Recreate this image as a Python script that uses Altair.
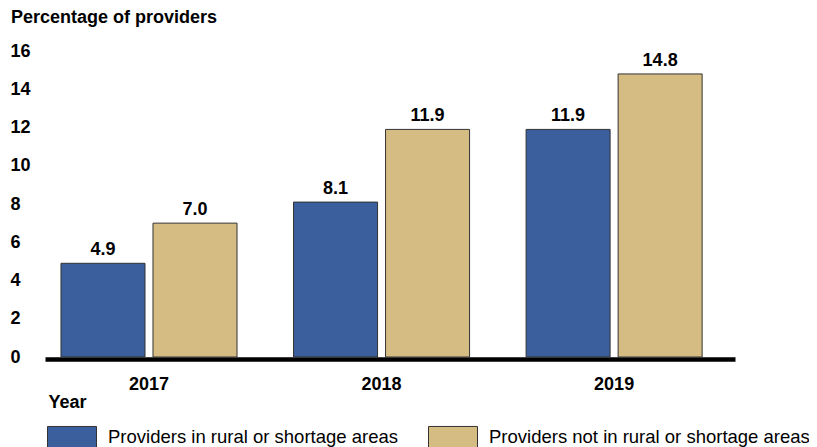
import altair as alt
import pandas as pd

years = ["2017", "2018", "2019"]
series = ["Providers in rural or shortage areas", "Providers not in rural or shortage areas"]
rural = [4.9, 8.1, 11.9]
not_rural = [7.0, 11.9, 14.8]
colors = ["#3A5F9C", "#D5BC82"]
y_ticks = [0, 2, 4, 6, 8, 10, 12, 14, 16]

rows = []
for i, y in enumerate(years):
    rows.append({"year": y, "series": series[0], "value": rural[i]})
    rows.append({"year": y, "series": series[1], "value": not_rural[i]})
df = pd.DataFrame(rows)

FONT = "Liberation Sans"

x_enc = alt.X(
    "year:N",
    sort=years,
    scale=alt.Scale(paddingInner=0.243, paddingOuter=0.105, align=0.327),
    axis=alt.Axis(
        labelAngle=0,
        labelFontSize=18,
        labelFontWeight="bold",
        labelColor="black",
        labelPadding=16,
        ticks=False,
        tickSize=0,
        domainColor="black",
        domainWidth=4.5,
        offset=2,
        title="Year",
        titleFontSize=18,
        titleFontWeight="bold",
        titleColor="black",
        titleAnchor="start",
        titleAlign="left",
        titleBaseline="alphabetic",
        titleX=3,
        titleY=48,
    ),
)
xoff_enc = alt.XOffset("series:N", sort=series, scale=alt.Scale(paddingInner=0.087, paddingOuter=0))
y_enc = alt.Y(
    "value:Q",
    scale=alt.Scale(domain=[0, 16], nice=False),
    axis=alt.Axis(
        values=y_ticks,
        grid=False,
        domain=False,
        ticks=False,
        tickSize=0,
        labelAlign="left",
        labelPadding=35,
        labelFontSize=18,
        labelFontWeight="bold",
        labelColor="black",
        title=None,
    ),
)

base = alt.Chart(df).encode(x=x_enc, xOffset=xoff_enc, y=y_enc)

bars = base.mark_bar(stroke="#333333", strokeWidth=1).encode(
    fill=alt.Fill(
        "series:N",
        sort=series,
        scale=alt.Scale(domain=series, range=colors),
        legend=alt.Legend(
            title=None,
            orient="none",
            direction="horizontal",
            legendX=2,
            legendY=361,
            padding=0,
            symbolType="M-1,-0.45H1V0.45H-1Z",
            symbolSize=2401,
            symbolStrokeColor="#333333",
            symbolStrokeWidth=1,
            symbolOpacity=1,
            labelFontSize=18.5,
            labelColor="black",
            labelFont=FONT,
            labelOffset=11,
            columnPadding=28,
            labelLimit=400,
        ),
    )
)

labels = base.mark_text(
    dy=-8, baseline="alphabetic", fontSize=18, fontWeight="bold", color="black"
).encode(text=alt.Text("value:Q", format=".1f"))

chart = (
    alt.layer(bars, labels)
    .properties(
        width=690,
        height=306,
        autosize=alt.AutoSizeParams(type="none"),
        padding={"left": 37, "top": 43, "right": 74, "bottom": 90},
        title=alt.Title(
            "Percentage of providers",
            anchor="start",
            frame="group",
            dx=-34,
            fontSize=18,
            fontWeight="bold",
            color="black",
            font=FONT,
            baseline="alphabetic",
            offset=1,
        ),
    )
    .configure(font=FONT)
    .configure_view(stroke=None)
)

chart.save("out.html", embed_options={"renderer": "svg", "actions": False})
